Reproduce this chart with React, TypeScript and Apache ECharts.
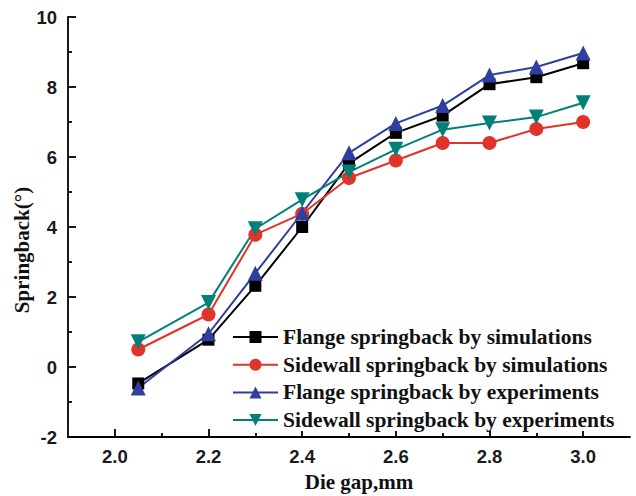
import React, { useEffect, useRef } from "react";
import * as echarts from "echarts";

const xValues = [2.05, 2.2, 2.3, 2.4, 2.5, 2.6, 2.7, 2.8, 2.9, 3.0];
const flangeSim = [-0.47, 0.78, 2.32, 4.0, 5.82, 6.69, 7.18, 8.08, 8.28, 8.68];
const sidewallSim = [0.5, 1.5, 3.78, 4.38, 5.4, 5.9, 6.4, 6.4, 6.8, 7.0];
const flangeExp = [-0.6, 0.95, 2.68, 4.4, 6.12, 6.96, 7.47, 8.34, 8.57, 8.97];
const sidewallExp = [0.72, 1.84, 3.95, 4.78, 5.57, 6.22, 6.78, 6.97, 7.14, 7.55];

const seriesNames = [
  "Flange springback by simulations",
  "Sidewall springback by simulations",
  "Flange springback by experiments",
  "Sidewall springback by experiments",
];
const xMajorTicks = [2.0, 2.2, 2.4, 2.6, 2.8, 3.0];
const xMinorTicks = [2.1, 2.3, 2.5, 2.7, 2.9];
const xTitle = "Die gap,mm";
const yTitle = "Springback(°)";

const pairs = (ys: number[]) => xValues.map((x, i) => [x, ys[i]]);

export default function App() {
  const ref = useRef<HTMLDivElement>(null);
  useEffect(() => {
    if (!ref.current) return;
    const chart = echarts.init(ref.current, null, { renderer: "svg" });
    const tickFont = {
      fontFamily: "Liberation Sans",
      fontWeight: "bold" as const,
      fontSize: 18.5,
      color: "#1a1a1a",
    };
    const axisLine = {
      show: true,
      onZero: false,
      lineStyle: { color: "#000", width: 1.8 },
    };
    const mk = (
      name: string,
      data: number[],
      color: string,
      symbol: string,
      size: number,
      rotate = 0
    ) => ({
      name,
      type: "line",
      data: pairs(data),
      symbol,
      symbolSize: size,
      symbolRotate: rotate,
      showSymbol: true,
      lineStyle: { color, width: 2 },
      itemStyle: { color },
      emphasis: { disabled: true },
    });
    const titleStyle = {
      fontFamily: "Liberation Serif",
      fontWeight: "bold",
      fontSize: 21,
      fill: "#111",
      align: "center",
      verticalAlign: "middle",
    };
    chart.setOption({
      animation: false,
      backgroundColor: "#fff",
      grid: {
        left: 68,
        right: 6,
        top: 17,
        bottom: 59,
        containLabel: false,
        outerBoundsMode: "none",
      },
      legend: {
        orient: "vertical",
        left: 232,
        top: 326,
        padding: 0,
        z: 10,
        backgroundColor: "#fff",
        itemWidth: 45,
        itemHeight: 15,
        itemGap: 5.7,
        data: seriesNames,
        textStyle: {
          fontFamily: "Liberation Serif",
          fontWeight: "bold",
          fontSize: 21.5,
          color: "#111",
        },
      },
      xAxis: [
        {
          type: "value",
          min: 1.9,
          max: 3.1,
          position: "bottom",
          splitLine: { show: false },
          axisLine,
          axisTick: {
            show: true,
            inside: true,
            length: 8,
            customValues: xMajorTicks,
            lineStyle: { color: "#000", width: 1.8 },
          },
          axisLabel: {
            ...tickFont,
            margin: 10,
            customValues: xMajorTicks,
            formatter: (v: number) => v.toFixed(1),
          },
        },
        {
          type: "value",
          min: 1.9,
          max: 3.1,
          position: "bottom",
          splitLine: { show: false },
          axisLine: { show: false, onZero: false },
          axisTick: {
            show: true,
            inside: true,
            length: 4,
            customValues: xMinorTicks,
            lineStyle: { color: "#000", width: 1.8 },
          },
          axisLabel: { show: false },
        },
      ],
      yAxis: {
        type: "value",
        min: -2,
        max: 10,
        interval: 2,
        splitLine: { show: false },
        axisLine,
        axisTick: {
          show: true,
          inside: true,
          length: 8,
          lineStyle: { color: "#000", width: 1.8 },
        },
        minorTick: {
          show: true,
          splitNumber: 2,
          length: 4,
          lineStyle: { color: "#000", width: 1.8 },
        },
        axisLabel: { ...tickFont, margin: 11 },
      },
      graphic: [
        {
          type: "text",
          x: 359,
          y: 482,
          style: { text: xTitle, ...titleStyle },
        },
        {
          type: "text",
          x: 22,
          y: 250,
          rotation: Math.PI / 2,
          style: { text: yTitle, ...titleStyle },
        },
      ],
      series: [
        mk(seriesNames[0], flangeSim, "#000000", "rect", 12),
        mk(seriesNames[1], sidewallSim, "#e0332a", "circle", 14),
        mk(seriesNames[2], flangeExp, "#2e3fa0", "triangle", 15),
        mk(seriesNames[3], sidewallExp, "#008078", "triangle", 15, 180),
      ],
    });
    return () => chart.dispose();
  }, []);
  return (
    <div
      ref={ref}
      style={{ position: "fixed", left: 0, top: 0, width: 636, height: 496 }}
    />
  );
}
